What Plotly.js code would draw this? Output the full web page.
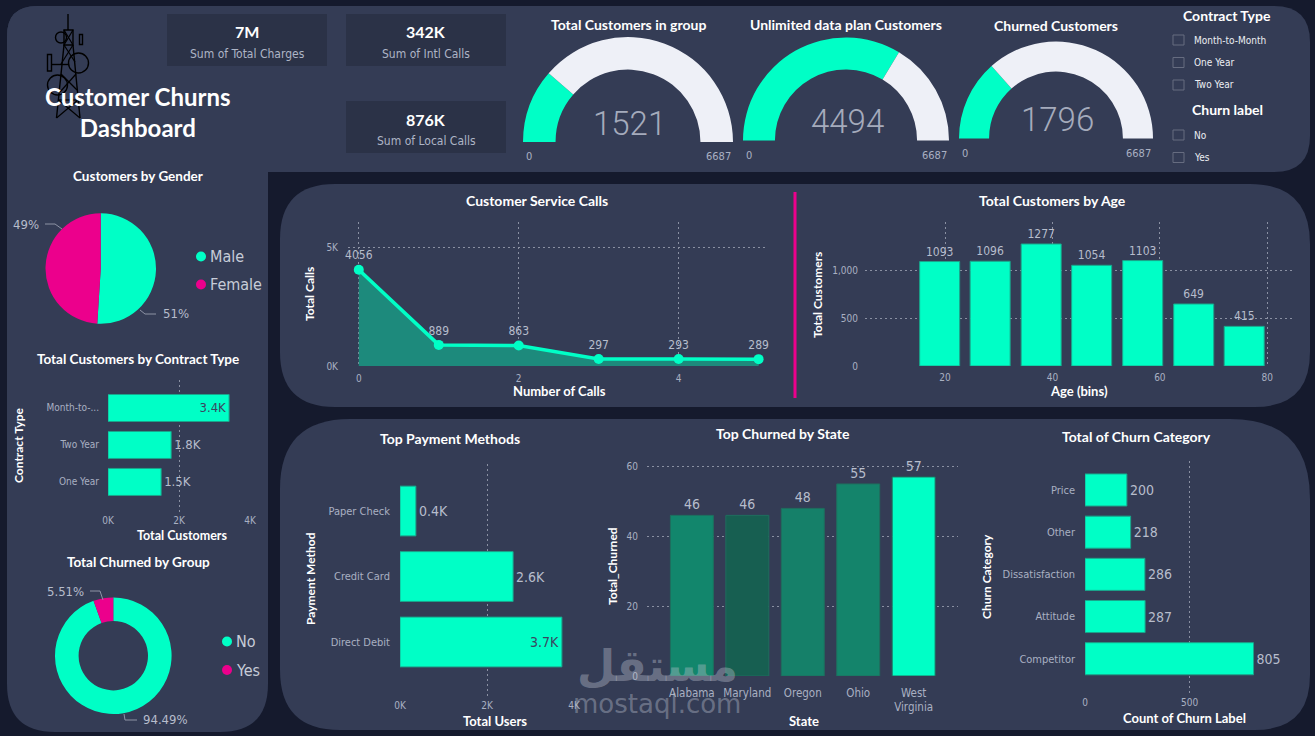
<!DOCTYPE html>
<html>
<head>
<meta charset="utf-8">
<script src="https://cdn.plot.ly/plotly-3.0.1.min.js"></script>
<style>
  html, body { margin: 0; padding: 0; background: #151a2d; }
  #dash { width: 1315px; height: 736px; }
</style>
</head>
<body>
<div id="dash"></div>
<script>
// ---------------- data ----------------
const kpiValues = ['7M', '342K', '876K'];
const kpiLabels = ['Sum of Total Charges', 'Sum of Intl Calls', 'Sum of Local Calls'];

const gaugeTitles = ['Total Customers in group', 'Unlimited data plan Customers', 'Churned Customers'];
const gaugeValues = [1521, 4494, 1796];
const gaugeMax = 6687;

const contractTypeOptions = ['Month-to-Month', 'One Year', 'Two Year'];
const churnLabelOptions = ['No', 'Yes'];

const genderLabels = ['Male', 'Female'];
const genderShares = [51, 49];

const contractTypes = ['Month-to-Month', 'Two Year', 'One Year'];
const contractCustomers = [3411, 1779, 1497];

const churnGroups = ['No', 'Yes'];
const churnGroupShares = [94.49, 5.51];

const serviceCalls = [0, 1, 2, 3, 4, 5];
const serviceCallTotals = [4056, 889, 863, 297, 293, 289];

const ageBins = [19, 28.4, 37.9, 47.3, 56.8, 66.3, 75.7];
const ageCustomers = [1093, 1096, 1277, 1054, 1103, 649, 415];

const paymentMethods = ['Paper Check', 'Credit Card', 'Direct Debit'];
const paymentUsers = [365, 2600, 3722];

const states = ['Alabama', 'Maryland', 'Oregon', 'Ohio', 'West Virginia'];
const stateChurned = [46, 46, 48, 55, 57];

const churnCategories = ['Price', 'Other', 'Dissatisfaction', 'Attitude', 'Competitor'];
const churnCategoryCounts = [200, 218, 286, 287, 805];

// ---------------- styling ----------------
const W = 1315, H = 736;
const PAGE = '#151a2d', PANEL = '#343c55', CARD = '#2b3247';
const TEAL = '#00ffc6', PINK = '#ec008c', EDGE = '#1aa58b';
const WHITE = '#ffffff', TICK = '#a9b0c2', LABEL = '#b7bdcc', GRID = '#8a90a2';
const NARROW = '"DejaVu Sans Condensed", Roboto, sans-serif';
const BOLD = 'Lato, "Open Sans", sans-serif';

// pixel -> paper helpers
const X = px => px / W;
const Y = py => 1 - py / H;
const xd = (a, b) => [X(a), X(b)];
const yd = (top, bottom) => [Y(bottom), Y(top)];
const kFmt = v => (v / 1000).toFixed(1) + 'K';

function txt(x, y, text, size, color, family, extra) {
  return Object.assign({
    xref: 'paper', yref: 'paper', x: X(x), y: Y(y), text: text, showarrow: false,
    xanchor: 'center', yanchor: 'middle', font: { size: size, color: color, family: family }
  }, extra || {});
}
const title = (x, y, text, size) => txt(x, y, '<b>' + text + '</b>', size || 14, WHITE, BOLD);

function roundedRect(x0, y0, x1, y1, r) {
  const [tl, tr, br, bl] = r;
  const p = (x, y) => X(x) + ',' + Y(y);
  return 'M' + p(x0 + tl, y0) + ' L' + p(x1 - tr, y0) + ' Q' + p(x1, y0) + ' ' + p(x1, y0 + tr) +
    ' L' + p(x1, y1 - br) + ' Q' + p(x1, y1) + ' ' + p(x1 - br, y1) +
    ' L' + p(x0 + bl, y1) + ' Q' + p(x0, y1) + ' ' + p(x0, y1 - bl) +
    ' L' + p(x0, y0 + tl) + ' Q' + p(x0, y0) + ' ' + p(x0 + tl, y0) + ' Z';
}
const pathShape = (path, fill, line) => ({
  type: 'path', xref: 'paper', yref: 'paper', layer: 'below', path: path,
  fillcolor: fill || 'rgba(0,0,0,0)', line: line || { width: 0 }
});
const polyline = (pts, color, width, layer) => ({
  type: 'path', xref: 'paper', yref: 'paper', layer: layer || 'above',
  path: 'M' + pts.map(p => X(p[0]) + ',' + Y(p[1])).join(' L'),
  line: { color: color, width: width || 1 }
});
const box = (x0, y0, x1, y1, fill, line, layer) => ({
  type: 'rect', xref: 'paper', yref: 'paper', layer: layer || 'below',
  x0: X(x0), x1: X(x1), y0: Y(y1), y1: Y(y0),
  fillcolor: fill || 'rgba(0,0,0,0)', line: line || { width: 0 }
});
const ring = (cx, cy, r, fill, line, layer) => ({
  type: 'circle', xref: 'paper', yref: 'paper', layer: layer || 'below',
  x0: X(cx - r), x1: X(cx + r), y0: Y(cy + r), y1: Y(cy - r),
  fillcolor: fill || 'rgba(0,0,0,0)', line: line || { width: 0 }
});
const seg = (x0, y0, x1, y1, color, width, layer) => ({
  type: 'line', xref: 'paper', yref: 'paper', layer: layer || 'below',
  x0: X(x0), y0: Y(y0), x1: X(x1), y1: Y(y1), line: { color: color, width: width }
});

const shapes = [];
const annotations = [];
const traces = [];

// ---------------- panels ----------------
shapes.push(pathShape(roundedRect(7, 6, 1310, 172, [30, 36, 36, 0]), PANEL));
shapes.push(pathShape(roundedRect(7, 6, 268, 732, [30, 0, 48, 48]), PANEL));
shapes.push(pathShape(roundedRect(280, 184, 1310, 407, [55, 60, 55, 55]), PANEL));
shapes.push(pathShape(roundedRect(280, 419, 1310, 730, [70, 80, 55, 60]), PANEL));
shapes.push(seg(795, 192, 795, 398, PINK, 3));

// ---------------- header: tower icon + dashboard title ----------------
const ink = { color: '#000000', width: 1.4 };
shapes.push(seg(68, 14, 68, 30, '#000', 1.4));
shapes.push(box(64, 30, 73, 45, null, ink));
shapes.push(seg(64, 30, 73, 45, '#000', 1.2));
shapes.push(seg(73, 30, 64, 45, '#000', 1.2));
shapes.push(ring(61, 37.5, 5.5, null, ink));
shapes.push(box(79.5, 34.5, 82.5, 44.5, null, ink));
shapes.push(ring(78.5, 63, 10, null, ink));
shapes.push(box(47.5, 54.5, 51.5, 71, null, ink));
shapes.push(seg(51.5, 64.5, 68, 64.5, '#000', 1.4));
shapes.push(ring(57.5, 85, 10, null, ink));
shapes.push(seg(64, 45, 56.5, 118, '#000', 1.4));
shapes.push(seg(73, 45, 80, 118, '#000', 1.4));
shapes.push(seg(64, 45, 75, 62, '#000', 1.2));
shapes.push(seg(73, 45, 61, 64, '#000', 1.2));
shapes.push(seg(61, 74, 77, 90, '#000', 1.2));
shapes.push(seg(76, 74, 60, 92, '#000', 1.2));
shapes.push(seg(58.5, 100, 78, 100, '#000', 1.2));
shapes.push(seg(58.5, 100, 80, 118, '#000', 1.2));
shapes.push(seg(78, 100, 56.5, 118, '#000', 1.2));
annotations.push(txt(137.5, 112, '<b>Customer Churns<br>Dashboard</b>', 24, WHITE, BOLD));

// ---------------- KPI cards ----------------
const cardBoxes = [[167, 14, 327, 66], [346, 14, 506, 66], [346, 101, 506, 153]];
cardBoxes.forEach((b, i) => {
  shapes.push(box(b[0], b[1], b[2], b[3], CARD));
  const cx = (b[0] + b[2]) / 2;
  annotations.push(txt(cx, b[1] + 18, '<b>' + kpiValues[i] + '</b>', 16, WHITE, BOLD));
  annotations.push(txt(cx, b[1] + 40, kpiLabels[i], 12, '#aeb5c6', NARROW));
});

// ---------------- gauges ----------------
const gaugeGeom = [{ cx: 628, cy: 142, r: 105 }, { cx: 846, cy: 140.5, r: 103 }, { cx: 1056, cy: 138.5, r: 97 }];
const gaugeTitleY = [24, 24, 26];
gaugeValues.forEach((v, i) => {
  const g = gaugeGeom[i];
  traces.push({
    type: 'pie', values: [v, gaugeMax - v, gaugeMax], labels: ['value', 'rest', 'hidden'],
    sort: false, direction: 'clockwise', rotation: -90, hole: 0.69,
    marker: { colors: [TEAL, '#eef0f7', 'rgba(0,0,0,0)'], line: { width: 0 } },
    textinfo: 'none', hoverinfo: 'skip', showlegend: false,
    domain: { x: xd(g.cx - g.r, g.cx + g.r), y: yd(g.cy - g.r, g.cy + g.r) }
  });
  annotations.push(title(g.cx, gaugeTitleY[i], gaugeTitles[i], 14));
  annotations.push(Object.assign(txt(g.cx + 1, g.cy - 19, String(v), 33, '#a5abbc', 'Roboto, sans-serif'),
    { font: { size: 33, color: '#a5abbc', family: 'Roboto, sans-serif', weight: 300 } }));
  annotations.push(txt(g.cx - g.r + 1, g.cy + 15, '0', 11, TICK, NARROW, { xanchor: 'left' }));
  annotations.push(txt(g.cx + g.r, g.cy + 15, String(gaugeMax), 11, TICK, NARROW, { xanchor: 'right' }));
});

// ---------------- slicers ----------------
annotations.push(title(1227, 16, 'Contract Type', 14));
contractTypeOptions.forEach((o, i) => {
  const y = 40 + i * 22.5;
  shapes.push(box(1173, y - 5, 1184, y + 5, null, { color: '#666c80', width: 1 }));
  annotations.push(txt(1192, y, o, 10, '#eceef3', NARROW, { xanchor: 'left' }));
});
annotations.push(title(1227, 110, 'Churn label', 14));
churnLabelOptions.forEach((o, i) => {
  const y = 135 + i * 22.5;
  shapes.push(box(1173, y - 5, 1184, y + 5, null, { color: '#666c80', width: 1 }));
  annotations.push(txt(1192, y, o, 10, '#eceef3', NARROW, { xanchor: 'left' }));
});

// ---------------- gender pie ----------------
annotations.push(title(138, 176, 'Customers by Gender', 13.5));
traces.push({
  type: 'pie', labels: genderLabels, values: genderShares, sort: false, direction: 'clockwise', rotation: 0,
  marker: { colors: [TEAL, PINK], line: { width: 0 } }, textinfo: 'none', showlegend: false,
  domain: { x: xd(45.5, 156), y: yd(213.3, 323.8) }
});
shapes.push(polyline([[45, 224], [55, 224], [62, 229]], '#8d93a5'));
shapes.push(polyline([[140, 310], [145, 314], [156, 314]], '#8d93a5'));
annotations.push(txt(41, 224, genderShares[1] + '%', 13, LABEL, NARROW, { xanchor: 'right' }));
annotations.push(txt(161, 314, genderShares[0] + '%', 13, LABEL, NARROW, { xanchor: 'left' }));
[TEAL, PINK].forEach((c, i) => {
  const y = 256.5 + i * 28;
  shapes.push(ring(201, y, 5, c, null, 'above'));
  annotations.push(txt(208, y, genderLabels[i], 16, '#c7ccd8', NARROW, { xanchor: 'left' }));
});

// ---------------- contract type bars ----------------
annotations.push(title(138, 359, 'Total Customers by Contract Type', 13.5));
annotations.push(txt(18, 446, '<b>Contract Type</b>', 12, WHITE, BOLD, { textangle: -90 }));
annotations.push(txt(182, 535, '<b>Total Customers</b>', 12.5, WHITE, BOLD));
traces.push({
  type: 'bar', orientation: 'h', x: contractCustomers, y: contractTypes, xaxis: 'x', yaxis: 'y',
  width: 0.73, marker: { color: TEAL, line: { color: EDGE, width: 1 } },
  text: contractCustomers.map(kFmt),
  textposition: contractCustomers.map(v => (v > 3000 ? 'inside' : 'outside')),
  insidetextanchor: 'end', textfont: { family: NARROW, size: 13 },
  insidetextfont: { color: '#3b4560', family: NARROW, size: 13 },
  outsidetextfont: { color: LABEL, family: NARROW, size: 13 },
  cliponaxis: false, showlegend: false
});

// ---------------- churned donut ----------------
annotations.push(title(138, 562, 'Total Churned by Group', 13.5));
traces.push({
  type: 'pie', labels: churnGroups, values: churnGroupShares, sort: false, direction: 'clockwise', rotation: 0,
  hole: 0.595, marker: { colors: [TEAL, PINK], line: { width: 0 } }, textinfo: 'none', showlegend: false,
  domain: { x: xd(55, 171.6), y: yd(597.4, 714) }
});
shapes.push(polyline([[90, 591], [100, 591], [103, 600]], '#8d93a5'));
shapes.push(polyline([[124, 714], [125, 720], [137, 720]], '#8d93a5'));
annotations.push(txt(86, 591, churnGroupShares[1].toFixed(2) + '%', 13, LABEL, NARROW, { xanchor: 'right' }));
annotations.push(txt(141, 719, churnGroupShares[0].toFixed(2) + '%', 13, LABEL, NARROW, { xanchor: 'left' }));
[TEAL, PINK].forEach((c, i) => {
  const y = 641.5 + i * 28.5;
  shapes.push(ring(227, y, 5, c, null, 'above'));
  annotations.push(txt(234, y, churnGroups[i], 16, '#c7ccd8', NARROW, { xanchor: 'left' }));
});

// ---------------- customer service calls ----------------
annotations.push(title(537, 200, 'Customer Service Calls', 14));
annotations.push(txt(310, 294, '<b>Total Calls</b>', 12, WHITE, BOLD, { textangle: -90 }));
annotations.push(txt(559, 391, '<b>Number of Calls</b>', 13, WHITE, BOLD));
traces.push({
  type: 'scatter', mode: 'lines+markers+text', x: serviceCalls, y: serviceCallTotals, xaxis: 'x2', yaxis: 'y2',
  line: { color: TEAL, width: 3.5 }, marker: { color: TEAL, size: 10 },
  fill: 'tozeroy', fillcolor: '#1d8a7c',
  text: serviceCallTotals.map(String), textposition: 'top center',
  textfont: { family: NARROW, size: 12, color: LABEL }, cliponaxis: false, showlegend: false
});

// ---------------- customers by age ----------------
annotations.push(title(1052, 200, 'Total Customers by Age', 14));
annotations.push(txt(817, 295, '<b>Total Customers</b>', 12, WHITE, BOLD, { textangle: -90 }));
annotations.push(txt(1079, 391, '<b>Age (bins)</b>', 13, WHITE, BOLD));
traces.push({
  type: 'bar', x: ageBins, y: ageCustomers, xaxis: 'x3', yaxis: 'y3', width: 7.45,
  marker: { color: TEAL, line: { color: EDGE, width: 1 } },
  text: ageCustomers.map(String), textposition: 'outside',
  textfont: { family: NARROW, size: 12, color: LABEL }, cliponaxis: false, showlegend: false
});

// ---------------- payment methods ----------------
annotations.push(title(450, 438, 'Top Payment Methods', 14));
annotations.push(txt(310, 579, '<b>Payment Method</b>', 12, WHITE, BOLD, { textangle: -90 }));
annotations.push(txt(495, 721, '<b>Total Users</b>', 13, WHITE, BOLD));
traces.push({
  type: 'bar', orientation: 'h', x: paymentUsers, y: paymentMethods, xaxis: 'x4', yaxis: 'y4',
  width: 0.76, marker: { color: TEAL, line: { color: EDGE, width: 1 } },
  text: paymentUsers.map(kFmt),
  textposition: paymentUsers.map(v => (v > 3000 ? 'inside' : 'outside')),
  insidetextanchor: 'end', textfont: { family: NARROW, size: 14 },
  insidetextfont: { color: '#3b4560', family: NARROW, size: 14 },
  outsidetextfont: { color: LABEL, family: NARROW, size: 14 },
  cliponaxis: false, showlegend: false
});

// ---------------- churned by state ----------------
const stateColors = ['#12866c', '#175f51', '#158069', '#14846b', TEAL];
annotations.push(title(783, 433, 'Top Churned by State', 14));
annotations.push(txt(612, 566, '<b>Total_Churned</b>', 12, WHITE, BOLD, { textangle: -90 }));
annotations.push(txt(804, 721, '<b>State</b>', 13, WHITE, BOLD));
traces.push({
  type: 'bar', x: states, y: stateChurned, xaxis: 'x5', yaxis: 'y5', width: 0.775,
  marker: { color: stateColors, line: { color: '#1f6e5e', width: 1 } },
  text: stateChurned.map(String), textposition: 'outside',
  textfont: { family: NARROW, size: 14, color: LABEL }, cliponaxis: false, showlegend: false
});

// ---------------- churn category ----------------
annotations.push(title(1136, 436, 'Total of Churn Category', 14));
annotations.push(txt(986, 577, '<b>Churn Category</b>', 12, WHITE, BOLD, { textangle: -90 }));
annotations.push(txt(1184, 718, '<b>Count of Churn Label</b>', 13, WHITE, BOLD));
traces.push({
  type: 'bar', orientation: 'h', x: churnCategoryCounts, y: churnCategories, xaxis: 'x6', yaxis: 'y6',
  width: 0.76, marker: { color: TEAL, line: { color: EDGE, width: 1 } },
  text: churnCategoryCounts.map(String), textposition: 'outside',
  textfont: { family: NARROW, size: 14, color: LABEL }, cliponaxis: false, showlegend: false
});

// watermark of the publishing site
annotations.push(txt(657, 665, '<b>مستقل</b>', 44, 'rgba(190,195,208,0.40)', '"DejaVu Sans", sans-serif'));
annotations.push(txt(657, 704, 'mostaql.com', 26, 'rgba(190,195,208,0.40)', '"DejaVu Sans", sans-serif'));

// ---------------- axes ----------------
const base = {
  showline: false, zeroline: false, ticks: '', fixedrange: true, automargin: false,
  tickfont: { family: NARROW, size: 10, color: TICK },
  gridcolor: GRID, griddash: '2px,3px', gridwidth: 1, showgrid: false
};
const kTicks = [0, 2000, 4000];
const kText = kTicks.map(v => v / 1000 + 'K');
const catAxis = (cats, range, extra) => Object.assign({}, base, {
  type: 'category', categoryorder: 'array', categoryarray: cats, range: range
}, extra);

const layout = {
  width: W, height: H, margin: { l: 0, r: 0, t: 0, b: 0 },
  paper_bgcolor: PAGE, plot_bgcolor: 'rgba(0,0,0,0)', showlegend: false,
  font: { family: NARROW, color: TICK },
  xaxis: Object.assign({}, base, { domain: xd(108, 250), anchor: 'y', range: [0, 4000], tickvals: kTicks, ticktext: kText, showgrid: true }),
  yaxis: catAxis(contractTypes, [2.84, -0.757], {
    domain: yd(380, 513), anchor: 'x', tickvals: contractTypes,
    ticktext: contractTypes.map(c => (c.length > 10 ? c.slice(0, 9) + '...' : c)), ticklabelstandoff: 8
  }),
  xaxis2: Object.assign({}, base, { domain: xd(348, 765), anchor: 'y2', range: [-0.135, 5.08], tickvals: [0, 2, 4], showgrid: true, ticklabelstandoff: 5 }),
  yaxis2: Object.assign({}, base, { domain: yd(222, 366), anchor: 'x2', range: [0, 6066], tickvals: [0, 5000], ticktext: ['0K', '5K'], showgrid: true, ticklabelstandoff: 9 }),
  xaxis3: Object.assign({}, base, { domain: xd(865, 1292), anchor: 'y3', range: [5.1, 84.6], tickvals: [20, 40, 60, 80], showgrid: true, ticklabelstandoff: 4 }),
  yaxis3: Object.assign({}, base, { domain: yd(222, 366), anchor: 'x3', range: [0, 1507], tickvals: [0, 500, 1000], tickformat: ',d', showgrid: true, ticklabelstandoff: 6 }),
  xaxis4: Object.assign({}, base, { domain: xd(400, 574), anchor: 'y4', range: [0, 4000], tickvals: kTicks, ticktext: kText, showgrid: true }),
  yaxis4: catAxis(paymentMethods, [2.855, -0.718], { domain: yd(464, 698), anchor: 'x4', tickfont: { family: NARROW, size: 11, color: TICK }, ticklabelstandoff: 9 }),
  xaxis5: catAxis(states, [-0.81, 4.8], {
    domain: xd(647, 958), anchor: 'y5', tickvals: states, ticklabelstandoff: 8,
    ticktext: states.map(s => s.replace(' ', '<br>')), tickfont: { family: NARROW, size: 11.5, color: TICK }
  }),
  yaxis5: Object.assign({}, base, { domain: yd(456, 676), anchor: 'x5', range: [0, 63], tickvals: [0, 20, 40, 60], showgrid: true, ticklabelstandoff: 8 }),
  xaxis6: Object.assign({}, base, { domain: xd(1085, 1295), anchor: 'y6', range: [0, 1003], tickvals: [0, 500], showgrid: true }),
  yaxis6: catAxis(churnCategories, [4.86, -0.687], { domain: yd(461, 695), anchor: 'x6', tickfont: { family: NARROW, size: 11, color: TICK }, ticklabelstandoff: 9 }),
  shapes: shapes,
  annotations: annotations
};

Plotly.newPlot('dash', traces, layout, { displayModeBar: false, staticPlot: true });
</script>
</body>
</html>
